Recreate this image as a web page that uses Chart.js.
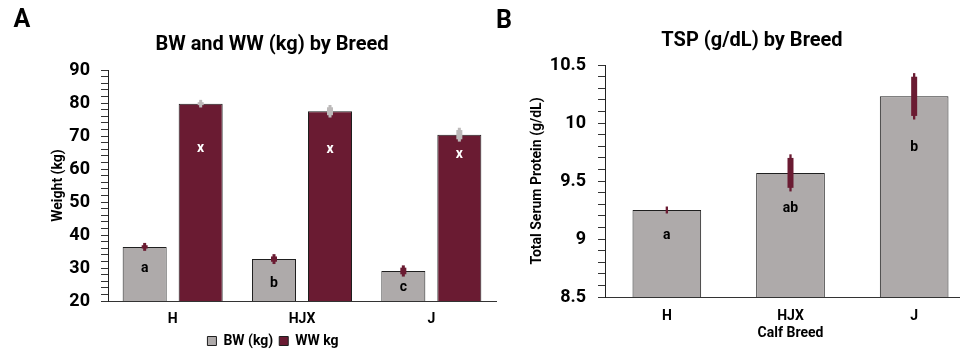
<!DOCTYPE html>
<html><head><meta charset="utf-8">
<script src="https://cdn.jsdelivr.net/npm/chart.js@4/dist/chart.umd.min.js"></script>
<style>
html,body{margin:0;padding:0;background:#fff;width:960px;height:350px;overflow:hidden;position:relative;font-family:Roboto,sans-serif;}
canvas{position:absolute;top:0;}
#cA{left:0;}
#cB{left:480px;}
.t{position:absolute;transform:translate(-50%,-50%);line-height:1;font-weight:700;color:#000;white-space:nowrap;}
</style></head><body>
<canvas id="cA" width="520" height="358"></canvas>
<canvas id="cB" width="520" height="350"></canvas>
<div class="t" style="left:22px;top:18px;font-size:25px;">A</div>
<div class="t" style="left:504px;top:19px;font-size:25px;">B</div>
<div class="t" style="left:272px;top:43px;font-size:20px;">BW and WW (kg) by Breed</div>
<div class="t" style="left:752px;top:39px;font-size:20px;">TSP (g/dL) by Breed</div>
<script>
// ---- data ----
const categories = ['H', 'HJX', 'J'];
const bwMeans = [36.4, 32.7, 29.1];
const bwErrors = [1.2, 1.5, 1.7];
const wwMeans = [79.8, 77.5, 70.4];
const wwErrors = [1.15, 1.9, 2.1];
const bwLetters = ['a', 'b', 'c'];
const wwLetters = ['x', 'x', 'x'];
const tspMeans = [9.25, 9.57, 10.23];
const tspErrors = [0.03, 0.16, 0.2];
const tspLetters = ['a', 'ab', 'b'];

const GRAY = '#AEAAAA';
const MAROON = '#6A1B32';
const ERR_GRAY = '#BDBABA';
const EDGE = '#1f1f1f';

Chart.defaults.font.family = 'Roboto, sans-serif';
Chart.defaults.color = '#000';

const annot = {
  id: 'annot',
  afterDatasetsDraw(chart, args, o) {
    const ctx = chart.ctx, y = chart.scales.y;
    o.series.forEach((s, di) => {
      const meta = chart.getDatasetMeta(di);
      const data = chart.data.datasets[di].data;
      meta.data.forEach((bar, i) => {
        const x = bar.x;
        const v = data[i], e = s.errors[i];
        const top = y.getPixelForValue(v + e), bot = y.getPixelForValue(v - e);
        ctx.save();
        ctx.strokeStyle = s.errColor;
        ctx.lineCap = 'butt';
        ctx.lineWidth = o.thin;
        ctx.beginPath(); ctx.moveTo(x, top); ctx.lineTo(x, bot); ctx.stroke();
        if (bot - top - 2 * o.cap > 2) {
          ctx.lineWidth = o.thick;
          ctx.beginPath(); ctx.moveTo(x, top + o.cap); ctx.lineTo(x, bot - o.cap); ctx.stroke();
        }
        ctx.fillStyle = s.letterColor;
        ctx.font = 'bold 14px Roboto, sans-serif';
        ctx.textAlign = 'center';
        ctx.textBaseline = 'middle';
        ctx.fillText(s.letters[i], x, bar.y + s.offsets[i]);
        ctx.restore();
      });
    });
  }
};

// ---- Chart A ----
new Chart(document.getElementById('cA'), {
  type: 'bar',
  data: {
    labels: categories,
    datasets: [
      { label: 'BW (kg)', data: bwMeans, backgroundColor: GRAY, borderColor: EDGE, borderWidth: 1,
        categoryPercentage: 0.866, barPercentage: 0.786 },
      { label: 'WW kg', data: wwMeans, backgroundColor: MAROON, borderColor: EDGE, borderWidth: 1,
        categoryPercentage: 0.866, barPercentage: 0.786 }
    ]
  },
  options: {
    responsive: false, animation: false,
    layout: { padding: { left: 50, right: 24, top: 70, bottom: 0 } },
    scales: {
      x: {
        grid: { display: true, drawOnChartArea: false, drawTicks: false },
        border: { display: true, color: '#333', width: 1 },
        ticks: { padding: 10, font: { size: 14, weight: 'bold' }, color: '#000' },
        afterFit: s => { s.height = 27; }
      },
      y: {
        min: 20, max: 90,
        grid: { drawOnChartArea: false, drawTicks: true, tickLength: 7, tickColor: '#333', tickWidth: 1 },
        border: { display: true, color: '#222', width: 1 },
        ticks: { stepSize: 2, autoSkip: false, padding: 11, font: { size: 18, weight: 'bold' }, color: '#000',
          callback: v => (Math.abs(v % 10) < 1e-6 ? String(v) : '') },
        title: { display: true, text: 'Weight (kg)', font: { size: 14, weight: 'bold' }, color: '#000', padding: 0 },
        afterFit: s => { s.width = 58; }
      }
    },
    plugins: {
      legend: { position: 'bottom',
        labels: { boxWidth: 9, boxHeight: 9, padding: 6, font: { size: 14, weight: 'bold' }, color: '#000' } },
      tooltip: { enabled: false },
      annot: {
        thin: 3, thick: 6, cap: 2.3,
        series: [
          { errors: bwErrors, errColor: MAROON, letters: bwLetters, letterColor: '#000', offsets: [22, 24, 17] },
          { errors: wwErrors, errColor: ERR_GRAY, letters: wwLetters, letterColor: '#fff', offsets: [45, 38, 20] }
        ]
      }
    }
  },
  plugins: [annot]
});

// ---- Chart B ----
new Chart(document.getElementById('cB'), {
  type: 'bar',
  data: {
    labels: categories,
    datasets: [
      { label: 'TSP (g/dL)', data: tspMeans, backgroundColor: GRAY, borderColor: EDGE, borderWidth: 1,
        categoryPercentage: 1, barPercentage: 0.555 }
    ]
  },
  options: {
    responsive: false, animation: false,
    layout: { padding: { left: 49, right: 24, top: 65, bottom: 8 } },
    scales: {
      x: {
        grid: { display: true, drawOnChartArea: false, drawTicks: false },
        border: { display: true, color: '#333', width: 1 },
        ticks: { padding: 11, font: { size: 14, weight: 'bold' }, color: '#000' },
        title: { display: true, text: 'Calf Breed', font: { size: 14, weight: 'bold' }, color: '#000', padding: 0 },
        afterFit: s => { s.height = 45; }
      },
      y: {
        min: 8.5, max: 10.5,
        grid: { drawOnChartArea: false, drawTicks: true, tickLength: 7, tickColor: '#333', tickWidth: 1 },
        border: { display: true, color: '#222', width: 1 },
        ticks: { stepSize: 0.1, autoSkip: false, padding: 12, font: { size: 18, weight: 'bold' }, color: '#000',
          callback: v => (Math.abs(v * 2 - Math.round(v * 2)) < 1e-6 ? String(Math.round(v * 10) / 10) : '') },
        title: { display: true, text: 'Total Serum Protein (g/dL)', font: { size: 14, weight: 'bold' }, color: '#000', padding: 0 },
        afterFit: s => { s.width = 76; }
      }
    },
    plugins: {
      legend: { display: false },
      tooltip: { enabled: false },
      annot: {
        thin: 2.3, thick: 6, cap: 3.6,
        series: [
          { errors: tspErrors, errColor: MAROON, letters: tspLetters, letterColor: '#000', offsets: [25, 36, 51] }
        ]
      }
    }
  },
  plugins: [annot]
});
</script>
</body></html>
